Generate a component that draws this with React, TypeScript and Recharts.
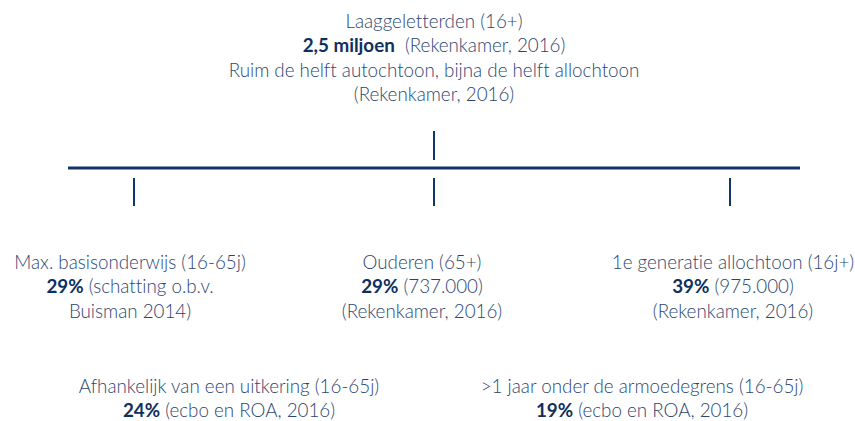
import React from 'react';
import { ComposedChart, XAxis, YAxis, Scatter, ReferenceLine } from 'recharts';

type Seg = { t: string; b?: boolean };

const headerText: Seg[][] = [
  [{ t: 'Laaggeletterden (16+)' }],
  [{ t: '2,5 miljoen', b: true }, { t: '\u00a0\u00a0(Rekenkamer, 2016)' }],
  [{ t: 'Ruim de helft autochtoon, bijna de helft allochtoon' }],
  [{ t: '(Rekenkamer, 2016)' }],
];
const basisText: Seg[][] = [
  [{ t: 'Max. basisonderwijs (16-65j)' }],
  [{ t: '29%', b: true }, { t: ' (schatting o.b.v.' }],
  [{ t: 'Buisman 2014)' }],
];
const ouderenText: Seg[][] = [
  [{ t: 'Ouderen (65+)' }],
  [{ t: '29%', b: true }, { t: ' (737.000)' }],
  [{ t: '(Rekenkamer, 2016)' }],
];
const allochtoonText: Seg[][] = [
  [{ t: '1e generatie allochtoon (16j+)' }],
  [{ t: '39%', b: true }, { t: ' (975.000)' }],
  [{ t: '(Rekenkamer, 2016)' }],
];
const uitkeringText: Seg[][] = [
  [{ t: 'Afhankelijk van een uitkering (16-65j)' }],
  [{ t: '24%', b: true }, { t: ' (ecbo en ROA, 2016)' }],
];
const armoedeText: Seg[][] = [
  [{ t: '>1 jaar onder de armoedegrens (16-65j)' }],
  [{ t: '19%', b: true }, { t: ' (ecbo en ROA, 2016)' }],
];

// layout (positions kept separate from content)
const W = 855;
const H = 421;
const blocks = [
  { lines: headerText, x: 434, y: 20 },
  { lines: basisText, x: 130, y: 261 },
  { lines: ouderenText, x: 422, y: 261 },
  { lines: allochtoonText, x: 733, y: 261 },
  { lines: uitkeringText, x: 229, y: 385 },
  { lines: armoedeText, x: 642, y: 385 },
];
const hLine = { x1: 68, x2: 800, y: 168 };
const topTick = { x: 434, y1: 131, y2: 160 };
const lowTicks = [134, 434, 730];
const lowTickY = { y1: 178, y2: 206 };

const LINE_H = 24.3;
const REG = '#2c4570';
const BOLD = '#0f2f5f';
const NAVY = '#10356a';

const renderBlock = (props: any) => {
  const { cx, cy, payload } = props;
  const lines: Seg[][] = payload.lines;
  return (
    <g>
      {lines.map((segs, i) => (
        <text
          key={i}
          x={cx}
          y={cy + i * LINE_H}
          textAnchor="middle"
          dominantBaseline="central"
          style={{ fontFamily: 'Lato, sans-serif', fontSize: 18.8, fontVariantLigatures: 'none' }}
        >
          {segs.map((s, j) => (
            <tspan key={j} fill={s.b ? BOLD : REG} fontWeight={s.b ? 700 : 300}>
              {s.t}
            </tspan>
          ))}
        </text>
      ))}
    </g>
  );
};

export default function App() {
  return (
    <div style={{ position: 'absolute', left: 0, top: 0, background: '#fff' }}>
      <ComposedChart width={W} height={H} margin={{ top: 0, right: 0, bottom: 0, left: 0 }}>
        <XAxis type="number" dataKey="x" domain={[0, W]} hide allowDataOverflow />
        <YAxis type="number" dataKey="y" domain={[0, H]} reversed hide allowDataOverflow width={0} />
        <ReferenceLine
          segment={[{ x: hLine.x1, y: hLine.y }, { x: hLine.x2, y: hLine.y }]}
          stroke={NAVY}
          strokeWidth={3}
          ifOverflow="visible"
        />
        <ReferenceLine
          segment={[{ x: topTick.x, y: topTick.y1 }, { x: topTick.x, y: topTick.y2 }]}
          stroke={NAVY}
          strokeWidth={2}
          ifOverflow="visible"
        />
        {lowTicks.map((tx) => (
          <ReferenceLine
            key={tx}
            segment={[{ x: tx, y: lowTickY.y1 }, { x: tx, y: lowTickY.y2 }]}
            stroke={NAVY}
            strokeWidth={2}
            ifOverflow="visible"
          />
        ))}
        <Scatter data={blocks} dataKey="y" shape={renderBlock} isAnimationActive={false} />
      </ComposedChart>
    </div>
  );
}
